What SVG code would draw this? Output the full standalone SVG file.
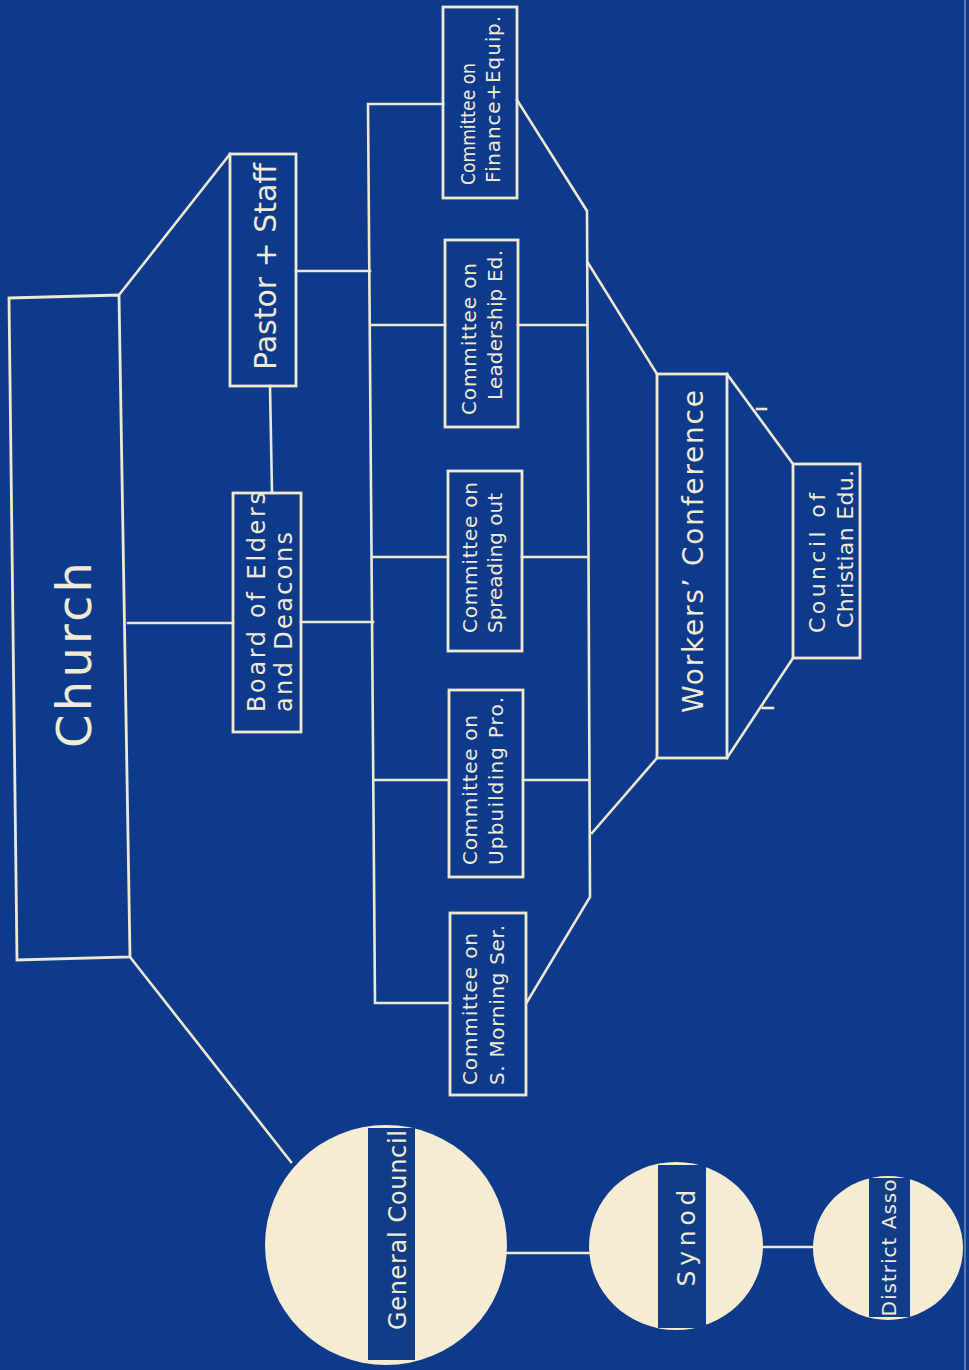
<svg xmlns="http://www.w3.org/2000/svg" width="969" height="1370" viewBox="0 0 969 1370">
<style>
.ln{fill:none;stroke:#efe8d2;stroke-width:2.6;stroke-linejoin:miter;stroke-linecap:square}
.bx{fill:none;stroke:#efe8d2;stroke-width:2.8}
.t{fill:#f1ead4;font-family:"DejaVu Sans","Liberation Sans",sans-serif;font-weight:normal}
.c{font-size:20px}
.disc{fill:#f6ecd1}
.band{fill:#113c88}
</style>
<rect x="0" y="0" width="969" height="1370" fill="#0e3a8b"/>
<line x1="965" y1="0" x2="965" y2="1370" stroke="#c9d3e6" stroke-width="1.2" opacity="0.7"/>

<g id="connectors">
  <polyline class="ln" points="119,295 230,154"/>
  <polyline class="ln" points="270,386 272,493"/>
  <polyline class="ln" points="128,623 233,623"/>
  <polyline class="ln" points="301,622 373,622"/>
  <polyline class="ln" points="296,271 370,271"/>
  <polyline class="ln" points="443,104 368,104 375,1003 450,1003"/>
  <polyline class="ln" points="372,325 445,325"/>
  <polyline class="ln" points="373,557 448,557"/>
  <polyline class="ln" points="374,780 448,780"/>
  <polyline class="ln" points="517,100 587,211 590,897 527,1002"/>
  <polyline class="ln" points="518,325 587,325"/>
  <polyline class="ln" points="522,557 588,557"/>
  <polyline class="ln" points="523,780 589,780"/>
  <polyline class="ln" points="588,263 657,374"/>
  <polyline class="ln" points="657,758 592,833"/>
  <polyline class="ln" points="727,374 793,464"/>
  <polyline class="ln" points="757,409 766,409"/>
  <polyline class="ln" points="727,758 793,658"/>
  <polyline class="ln" points="763,708 773,708"/>
  <polyline class="ln" points="130,957 291,1162"/>
  <polyline class="ln" points="507,1253 589,1253"/>
  <polyline class="ln" points="763,1247 813,1247"/>
</g>

<g id="church">
  <polygon class="bx" points="9,298 119,295 130,957 17,960"/>
  <text class="t" font-size="48" transform="translate(91,748) rotate(-90)" textLength="186" lengthAdjust="spacing">Church</text>
</g>

<g id="pastor">
  <rect class="bx" x="230" y="154" width="66" height="232"/>
  <text class="t" font-size="30" transform="translate(276,370) rotate(-90)" textLength="207" lengthAdjust="spacing">Pastor + Staff</text>
</g>

<g id="board">
  <rect class="bx" x="233" y="493" width="68" height="239"/>
  <text class="t" font-size="24" transform="translate(265,712) rotate(-90)" textLength="220" lengthAdjust="spacing">Board of Elders</text>
  <text class="t" font-size="24" transform="translate(292,712) rotate(-90)" textLength="180" lengthAdjust="spacing">and Deacons</text>
</g>

<g id="finance">
  <rect class="bx" x="443" y="7" width="74" height="191"/>
  <text class="t c" transform="translate(475,185) rotate(-90)" textLength="122" lengthAdjust="spacingAndGlyphs">Committee on</text>
  <text class="t c" transform="translate(500,183) rotate(-90)" textLength="167" lengthAdjust="spacing">Finance+Equip.</text>
</g>

<g id="leadership">
  <rect class="bx" x="445" y="240" width="73" height="187"/>
  <text class="t c" transform="translate(476,415) rotate(-90)" textLength="152" lengthAdjust="spacing">Committee on</text>
  <text class="t c" transform="translate(502,400) rotate(-90)" textLength="150" lengthAdjust="spacing">Leadership Ed.</text>
</g>

<g id="spreading">
  <rect class="bx" x="448" y="471" width="74" height="180"/>
  <text class="t c" transform="translate(477,633) rotate(-90)" textLength="151" lengthAdjust="spacing">Committee on</text>
  <text class="t c" transform="translate(502,633) rotate(-90)" textLength="140" lengthAdjust="spacing">Spreading out</text>
</g>

<g id="upbuilding">
  <rect class="bx" x="449" y="690" width="74" height="187"/>
  <text class="t c" transform="translate(477,865) rotate(-90)" textLength="150" lengthAdjust="spacing">Committee on</text>
  <text class="t c" transform="translate(503,865) rotate(-90)" textLength="168" lengthAdjust="spacing">Upbuilding Pro.</text>
</g>

<g id="morning">
  <rect class="bx" x="450" y="913" width="76" height="182"/>
  <text class="t c" transform="translate(477,1085) rotate(-90)" textLength="152" lengthAdjust="spacing">Committee on</text>
  <text class="t c" transform="translate(504,1085) rotate(-90)" textLength="160" lengthAdjust="spacing">S. Morning Ser.</text>
</g>

<g id="workers">
  <rect class="bx" x="657" y="374" width="70" height="384"/>
  <text class="t" font-size="28" transform="translate(703,713) rotate(-90)" textLength="323" lengthAdjust="spacing">Workers’ Conference</text>
</g>

<g id="council">
  <rect class="bx" x="793" y="464" width="67" height="194"/>
  <text class="t" font-size="22" transform="translate(825,633) rotate(-90)" textLength="140" lengthAdjust="spacing">Council of</text>
  <text class="t" font-size="22" transform="translate(853,628) rotate(-90)" textLength="158" lengthAdjust="spacing">Christian Edu.</text>
</g>

<g id="general-council">
  <ellipse class="disc" cx="386" cy="1245" rx="121" ry="120"/>
  <rect class="band" x="368" y="1128" width="47" height="232"/>
  <text class="t" font-size="24" text-anchor="middle" transform="translate(406,1230) rotate(-90)" textLength="200" lengthAdjust="spacing">General Council</text>
</g>

<g id="synod">
  <ellipse class="disc" cx="676" cy="1246" rx="87" ry="84"/>
  <rect class="band" x="658" y="1165" width="48" height="163"/>
  <text class="t" font-size="25" text-anchor="middle" transform="translate(695,1238) rotate(-90)" textLength="97" lengthAdjust="spacing">Synod</text>
</g>

<g id="district">
  <ellipse class="disc" cx="888" cy="1248" rx="75" ry="72"/>
  <rect class="band" x="869" y="1178" width="41" height="139"/>
  <text class="t" font-size="20" text-anchor="middle" transform="translate(896,1248) rotate(-90)" textLength="137" lengthAdjust="spacing">District Asso</text>
</g>
</svg>
